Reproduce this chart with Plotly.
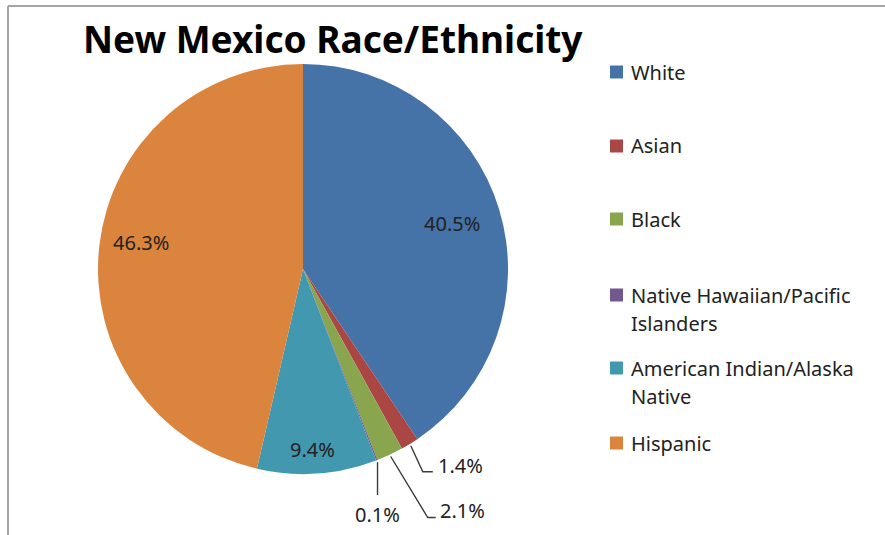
import math
import textwrap
import plotly.graph_objects as go

# ---------------- data ----------------
categories = ["White", "Asian", "Black", "Native Hawaiian/Pacific Islanders",
              "American Indian/Alaska Native", "Hispanic"]
percent_values = [40.5, 1.4, 2.1, 0.1, 9.4, 46.3]
slice_colors = ["#4572A7", "#AA4643", "#89A54E", "#71588F", "#4198AF", "#DB843D"]
title_text = "New Mexico Race/Ethnicity"

# ---------------- layout geometry (pixels) ----------------
W, H = 885, 535
CX, CY, R = 303, 269, 205           # pie centre / radius in pixels
FONT = "Noto Sans"
TXT = "#222222"

def px(x):
    return x / W

def py(y):
    return 1 - y / H

# inside-label radial fractions (None = outside label with leader line) and angle nudges (deg)
inside_frac = [0.76, None, None, None, 0.88, 0.80]
angle_nudge = [0, 0, 0, 0, 1, 2.8]
# leader geometry for outside labels: (elbow dx, elbow dy, horizontal run, text dx, text dy, anchor)
leader = {
    1: (12, 26, 10, 3, -6, "left"),
    2: (37, 61, 8, 2, -7, "left"),
    3: (0, 33, 0, 0, 19, "center"),
}

fig = go.Figure(go.Pie(
    labels=categories,
    values=percent_values,
    sort=False,
    direction="clockwise",
    rotation=0,
    marker=dict(colors=slice_colors, line=dict(width=0)),
    textinfo="none",
    hoverinfo="label+percent",
    showlegend=False,
    domain=dict(x=[px(CX - R), px(CX + R)], y=[py(CY + R), py(CY - R)]),
))

annotations = []
shapes = []

total = sum(percent_values)
cum = 0.0
for i, v in enumerate(percent_values):
    mid = (cum + v / 2) / total * 2 * math.pi
    cum += v
    label = f"{v}%"
    if inside_frac[i] is not None:
        a = mid + math.radians(angle_nudge[i])
        r = R * inside_frac[i]
        annotations.append(dict(
            x=px(CX + r * math.sin(a)), y=py(CY - r * math.cos(a)), xref="paper", yref="paper",
            text=label, showarrow=False, font=dict(family=FONT, size=20, color=TXT),
            xanchor="center", yanchor="middle"))
    else:
        sx, sy = math.sin(mid), -math.cos(mid)
        ex, ey = CX + (R + 2) * sx, CY + (R + 2) * sy
        edx, edy, run, tdx, tdy, anc = leader[i]
        bx, by = ex + edx, ey + edy
        hx = bx + run
        path = f"M {px(ex)},{py(ey)} L {px(bx)},{py(by)} L {px(hx)},{py(by)}"
        shapes.append(dict(type="path", path=path, xref="paper", yref="paper",
                           line=dict(color="#3a3a3a", width=1.4)))
        annotations.append(dict(
            x=px(hx + tdx), y=py(by + tdy), xref="paper", yref="paper",
            text=label, showarrow=False, font=dict(family=FONT, size=20, color=TXT),
            xanchor=anc, yanchor="middle"))

# ---------------- custom legend ----------------
legend_row_y = [72, 146, 219, 295, 368, 443]
LINE_H = 28
SQ = 13
for cat, col, ry in zip(categories, slice_colors, legend_row_y):
    shapes.append(dict(type="rect", xref="paper", yref="paper",
                       x0=px(610), x1=px(610 + SQ), y0=py(ry + SQ / 2), y1=py(ry - SQ / 2),
                       fillcolor=col, line=dict(width=0)))
    for k, line in enumerate(textwrap.wrap(cat, width=23)):
        annotations.append(dict(
            x=px(629), y=py(ry + k * LINE_H), xref="paper", yref="paper",
            text=line, showarrow=False, font=dict(family=FONT, size=20, color=TXT),
            xanchor="left", yanchor="middle"))

# title
annotations.append(dict(
    x=px(81), y=py(39), xref="paper", yref="paper", text=f"<b>{title_text}</b>",
    showarrow=False, font=dict(family=FONT, size=37, color="#000000"),
    xanchor="left", yanchor="middle"))

# outer frame (top and left edges visible)
shapes.append(dict(type="line", xref="paper", yref="paper",
                   x0=px(8), x1=1, y0=py(6), y1=py(6), line=dict(color="#a6a6a6", width=2)))
shapes.append(dict(type="line", xref="paper", yref="paper",
                   x0=px(8), x1=px(8), y0=py(6), y1=0, line=dict(color="#a6a6a6", width=2)))

fig.update_layout(
    width=W, height=H,
    margin=dict(l=0, r=0, t=0, b=0),
    paper_bgcolor="white", plot_bgcolor="white",
    annotations=annotations, shapes=shapes,
)

fig.write_html("out.html", config={"displayModeBar": False},
               post_script="document.body.style.margin='0px';document.body.style.overflow='hidden';")
